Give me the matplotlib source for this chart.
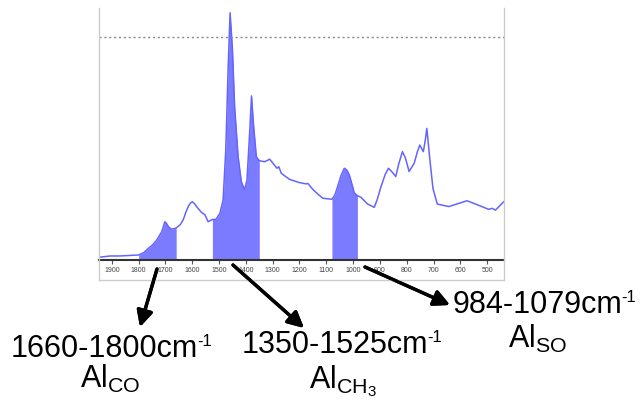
import numpy as np
import matplotlib.pyplot as plt
from matplotlib.lines import Line2D

plt.rcParams['font.family'] = ['Liberation Sans', 'DejaVu Sans']
plt.rcParams['mathtext.fontset'] = 'custom'
plt.rcParams['mathtext.rm'] = 'Liberation Sans'

# spectrum (wavenumber in cm-1, absorbance arb. units)
wavenumber = [1947, 1906, 1869, 1800, 1780, 1764, 1748, 1733, 1714, 1706, 1702, 1696,
              1689, 1677, 1660, 1645, 1634, 1622, 1615, 1607, 1600, 1592, 1584, 1566,
              1553, 1541, 1525, 1512, 1497, 1485, 1475, 1466, 1459, 1450, 1442, 1429,
              1417, 1405, 1396, 1386, 1379, 1371, 1361, 1350, 1330, 1311, 1299, 1284,
              1277, 1268, 1250, 1237, 1200, 1175, 1169, 1150, 1130, 1113, 1079, 1068,
              1058, 1045, 1033, 1024, 1014, 1004, 996, 984, 971, 946, 921, 910, 896,
              880, 868, 855, 841, 830, 816, 805, 791, 772, 760, 751, 738, 730, 725,
              720, 714, 702, 686, 643, 575, 543, 494, 481, 469, 438]
absorbance = [0.011, 0.016, 0.016, 0.020, 0.030, 0.046, 0.060, 0.079, 0.112, 0.140, 0.152, 0.145,
              0.132, 0.122, 0.127, 0.140, 0.159, 0.195, 0.212, 0.226, 0.231, 0.224, 0.212, 0.189,
              0.180, 0.152, 0.161, 0.161, 0.185, 0.238, 0.437, 0.767, 0.981, 0.833, 0.608, 0.410,
              0.311, 0.278, 0.317, 0.503, 0.651, 0.529, 0.410, 0.394, 0.390, 0.400, 0.384, 0.364,
              0.370, 0.344, 0.330, 0.320, 0.307, 0.302, 0.304, 0.280, 0.260, 0.245, 0.241, 0.258,
              0.291, 0.335, 0.364, 0.358, 0.337, 0.300, 0.267, 0.255, 0.249, 0.222, 0.209, 0.240, 0.291,
              0.340, 0.364, 0.350, 0.331, 0.380, 0.430, 0.405, 0.351, 0.384, 0.430, 0.456, 0.430, 0.480, 0.522,
              0.470, 0.403, 0.284, 0.222, 0.212, 0.235, 0.222, 0.201, 0.205, 0.198, 0.231]

bands = [(1660, 1800), (1350, 1525), (984, 1079)]
band_labels = ['1660-1800cm', '1350-1525cm', '984-1079cm']
band_names = ['Al$_{\\mathregular{CO}}$', 'Al$_{\\mathregular{CH_3}}$', 'Al$_{\\mathregular{SO}}$']
ref_level = 0.886
ticks = list(range(1900, 400, -100))

wn = np.array(wavenumber)
ab = np.array(absorbance)

W, H = 644, 400
fig = plt.figure(figsize=(6.44, 4.0), dpi=100)
ax = fig.add_axes([99 / W, 1 - 260 / H, (504 - 99) / W, (260 - 8) / H])

ax.plot(wn, ab, color='#6464ff', lw=1.1)
for lo, hi in bands:
    mask = (wn >= lo) & (wn <= hi)
    ax.fill_between(wn, 0, ab, where=mask, color='#7b7bff', lw=0)
ax.axhline(ref_level, color='#888888', ls=(0, (1.5, 2)), lw=1)

ax.set_xlim(1948, 437)
ax.set_ylim(0, 1)
ax.set_xticks(ticks)
ax.set_xticklabels([str(t) for t in ticks], fontsize=5, color='#444444')
ax.set_yticks([])
ax.tick_params(axis='x', length=3, width=0.8, color='#555555', pad=2)
for s in ['top', 'left', 'right']:
    ax.spines[s].set_visible(False)
ax.spines['bottom'].set_linewidth(1.5)
ax.spines['bottom'].set_color('#333333')

# light frame around the spectrum panel
def fig_line(x, y):
    fig.add_artist(Line2D([v / W for v in x], [1 - v / H for v in y],
                          color='#cccccc', lw=1))

fig_line([99, 99], [8, 280])
fig_line([504, 504], [8, 280])
fig_line([99, 504], [280, 280])

# arrows and labels (figure pixel coordinates)
arrows = [((157, 269), (140, 327)), ((233, 265), (304, 328)), ((365, 267), (450, 305))]
label_end = [(198, 357), (428, 353), (622, 313)]
name_pos = [(110, 388), (343, 388), (538, 348)]
for (start, tip), lab, le, name, npos in zip(arrows, band_labels, label_end,
                                             band_names, name_pos):
    fig.add_artist(plt.annotate('', xy=(tip[0] / W, 1 - tip[1] / H),
                                xytext=(start[0] / W, 1 - start[1] / H),
                                xycoords='figure fraction',
                                arrowprops=dict(arrowstyle='-|>', color='black', lw=2.4,
                                                mutation_scale=24, shrinkA=0, shrinkB=0)))
    fig.text(le[0] / W, 1 - le[1] / H, lab, fontsize=22, ha='right', va='baseline')
    fig.text((le[0] - 1) / W, 1 - (le[1] - 11) / H, '-1', fontsize=12,
             ha='left', va='baseline')
    fig.text(npos[0] / W, 1 - npos[1] / H, name, fontsize=22, ha='center', va='baseline')

fig.savefig('out.png', dpi=100)
